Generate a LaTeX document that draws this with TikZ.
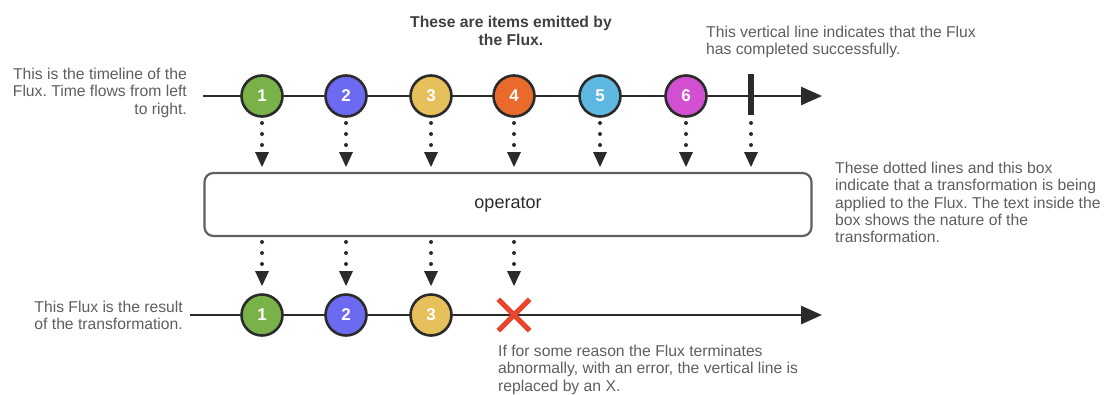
\documentclass[tikz,border=0pt]{standalone}
\usepackage{fontspec}
\setmainfont{Liberation Sans}
\usetikzlibrary{arrows.meta}
\frenchspacing
\definecolor{txt}{HTML}{5E5E5E}
\definecolor{ln}{HTML}{2B2B2B}
\definecolor{cA}{HTML}{7AB24A}
\definecolor{cB}{HTML}{6C6AF0}
\definecolor{cC}{HTML}{E6C05A}
\definecolor{cD}{HTML}{EA6A2C}
\definecolor{cE}{HTML}{5DB7E0}
\definecolor{cF}{HTML}{D24FD2}
\definecolor{xred}{HTML}{E8452C}
\tikzset{
  item/.style={circle, draw=ln, line width=2.6pt, minimum size=41pt, inner sep=0pt,
    font=\fontsize{17}{17}\selectfont\bfseries, text=white},
  timeline/.style={line width=2.8pt, draw=ln, -{Triangle[length=21pt,width=18pt]}},
  dotline/.style={draw=ln, line width=4pt, dash pattern=on 0pt off 11pt, line cap=round},
  tip/.style={fill=ln, draw=none},
  note/.style={text=txt, font=\fontsize{15.7}{17.3}\selectfont, inner sep=0pt},
  opbox/.style={draw=ln!75, line width=2.2pt, rounded corners=9pt, fill=white}
}
\newcommand{\dotarr}[2]{% x, top y
  \coordinate (da) at (#1,#2);
  \draw[dotline] (da) -- ++(0,25);
  \fill[tip] (da) ++(-7,29) -- ++(14,0) -- ++(-7,15) -- cycle;
}
\begin{document}
\begin{tikzpicture}[x=1pt,y=-1pt]
\useasboundingbox (0,0) rectangle (1110,394);
% top timeline
\coordinate (t0) at (203,96);
\coordinate (t1) at (822,96);
\draw[timeline] (t0) -- (t1);
\node[item, fill=cA] (a1) at (262,96) {1};
\node[item, fill=cB] (a2) at (346,96) {2};
\node[item, fill=cC] (a3) at (431,96) {3};
\node[item, fill=cD] (a4) at (514,96) {4};
\node[item, fill=cE] (a5) at (600,96) {5};
\node[item, fill=cF] (a6) at (686,96) {6};
\coordinate (barT) at (751,74);
\coordinate (barB) at (751,115);
\draw[ln, line width=5.5pt] (barT) -- (barB);
% operator box
\node[opbox, minimum width=607pt, minimum height=63pt, font=\fontsize{18}{18}\selectfont, text=ln] (op) at (508,204.5) {operator};
% dotted arrows top
\foreach \x in {262,346,431,514,600,686,751}{
  \dotarr{\x}{123}
}
% bottom timeline
\coordinate (b0) at (190,315);
\coordinate (b1) at (822,315);
\draw[timeline] (b0) -- (b1);
\node[item, fill=cA] (r1) at (262,315) {1};
\node[item, fill=cB] (r2) at (346,315) {2};
\node[item, fill=cC] (r3) at (431,315) {3};
\node[minimum size=31pt, inner sep=0pt] (rx) at (514,315) {};
\draw[xred, line width=5pt] (rx.north west) -- (rx.south east) (rx.north east) -- (rx.south west);
% dotted arrows bottom
\foreach \x in {262,346,431,514}{
  \dotarr{\x}{242}
}
% notes
\node[note, align=right, anchor=north east] (n1) at (187,68) {This is the timeline of the\\Flux. Time flows from left\\to right.};
\node[note, align=center, anchor=north, font=\fontsize{15.7}{17.5}\selectfont\bfseries, text=ln!90] (n2) at (511,16) {These are items emitted by\\the Flux.};
\node[note, align=left, anchor=north west] (n3) at (706,26) {This vertical line indicates that the Flux\\has completed successfully.};
\node[note, align=left, anchor=north west] (n4) at (835,162) {These dotted lines and this box\\indicate that a transformation is being\\applied to the Flux. The text inside the\\box shows the nature of the\\transformation.};
\node[note, align=right, anchor=north east] (n5) at (183,301) {This Flux is the result\\of the transformation.};
\node[note, align=left, anchor=north west] (n6) at (498,345) {If for some reason the Flux terminates\\abnormally, with an error, the vertical line is\\replaced by an X.};
\end{tikzpicture}
\end{document}
